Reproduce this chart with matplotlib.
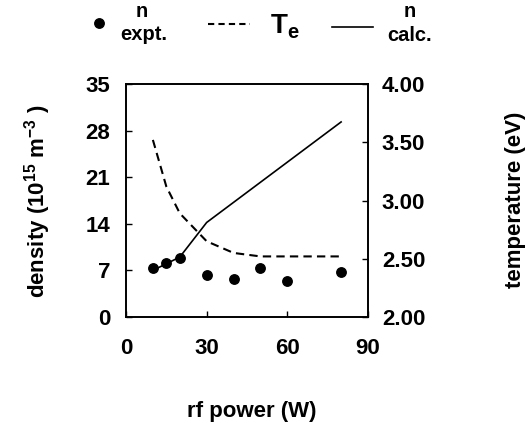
import matplotlib
matplotlib.use("Agg")
import matplotlib.pyplot as plt
from matplotlib.lines import Line2D

plt.rcParams['font.family'] = ['Liberation Sans', 'DejaVu Sans']
plt.rcParams['font.weight'] = 'bold'
plt.rcParams['mathtext.fontset'] = 'custom'
plt.rcParams['mathtext.bf'] = 'Liberation Sans:bold'
plt.rcParams['mathtext.rm'] = 'Liberation Sans:bold'
plt.rcParams['mathtext.default'] = 'bf'

power = [10, 15, 20, 30, 40, 50, 60, 80]
n_expt = [7.4, 8.1, 8.9, 6.3, 5.7, 7.4, 5.4, 6.7]
calc_power = [10, 15, 20, 30, 80]
n_calc = [7.0, 8.0, 9.0, 14.2, 29.3]
te_power = [10, 15, 20, 30, 40, 50, 60, 80]
te = [3.52, 3.12, 2.89, 2.65, 2.55, 2.52, 2.52, 2.52]

xticks = [0, 30, 60, 90]
yticks_left = [0, 7, 14, 21, 28, 35]
yticks_right = [2.00, 2.50, 3.00, 3.50, 4.00]

fig = plt.figure(figsize=(5.29, 4.23), dpi=100)
W, H = 529, 423
ax = fig.add_axes([126 / W, 1 - 317 / H, (368 - 126) / W, (317 - 84) / H])
ax2 = ax.twinx()

ax.plot(power, n_expt, 'o', color='black', markersize=6.8, zorder=3)
ax.plot(calc_power, n_calc, '-', color='black', linewidth=1.2)
ax2.plot(te_power, te, '--', color='black', linewidth=1.5, dashes=(4, 2.5))

ax.set_xlim(0, 90)
ax.set_ylim(0, 35)
ax2.set_ylim(2.0, 4.0)
ax.set_xticks(xticks)
ax.set_yticks(yticks_left)
ax2.set_yticks(yticks_right)
ax2.set_yticklabels([f"{v:.2f}" for v in yticks_right])

fs = 16
ax.tick_params(axis='y', direction='in', length=4, width=1, labelsize=fs, pad=11.5)
ax.tick_params(axis='x', direction='in', length=4, width=1, labelsize=fs, pad=15)
ax2.tick_params(direction='in', length=4, width=1, labelsize=fs, pad=10)
for a in (ax, ax2):
    for s in a.spines.values():
        s.set_linewidth(1.2)
    for lab in a.get_xticklabels() + a.get_yticklabels():
        lab.set_fontweight('bold')

fig.text(252 / W, 1 - 411 / H, "rf power (W)", fontsize=fs, fontweight='bold',
         ha='center', va='center')
fig.text(38 / W, 1 - 201 / H, r"density (10$^{15}$ m$^{-3}$ )", fontsize=fs,
         fontweight='bold', rotation=90, ha='center', va='center')
fig.text(515 / W, 1 - 200 / H, "temperature (eV)", fontsize=fs, fontweight='bold',
         rotation=90, ha='center', va='center')

# Legend (top)
lfs = 14.5
fig.add_artist(Line2D([98.5 / W], [1 - 23 / H], marker='o', color='black',
                      markersize=6.8, linestyle='none'))
fig.text(142 / W, 1 - 17 / H, "n", fontsize=lfs, fontweight='bold', ha='center', va='baseline')
fig.text(144 / W, 1 - 40 / H, "expt.", fontsize=lfs, fontweight='bold', ha='center', va='baseline')
fig.add_artist(Line2D([208 / W, 250 / W], [1 - 24 / H, 1 - 24 / H], color='black',
                      linewidth=1.5, linestyle='--', dashes=(3, 2)))
fig.text(271 / W, 1 - 33 / H, "T", fontsize=20, fontweight='bold', ha='left', va='baseline')
fig.text(287 / W, 1 - 38 / H, "e", fontsize=lfs, fontweight='bold', ha='left', va='baseline')
fig.add_artist(Line2D([332 / W, 373 / W], [1 - 27 / H, 1 - 27 / H], color='black',
                      linewidth=1.2))
fig.text(410 / W, 1 - 17 / H, "n", fontsize=lfs, fontweight='bold', ha='center', va='baseline')
fig.text(409.5 / W, 1 - 41 / H, "calc.", fontsize=lfs, fontweight='bold', ha='center', va='baseline')

fig.savefig("out.png", dpi=100)
